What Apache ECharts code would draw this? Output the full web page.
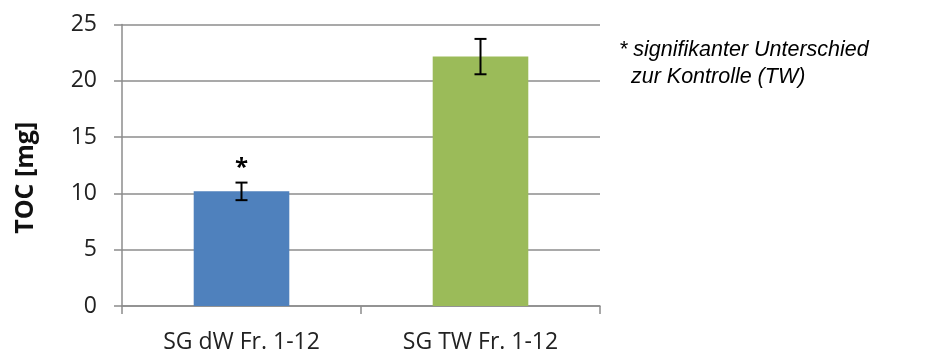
<!DOCTYPE html>
<html>
<head>
<meta charset="utf-8">
<script src="https://cdn.jsdelivr.net/npm/echarts@6/dist/echarts.min.js"></script>
<style>
  html, body { margin: 0; padding: 0; background: #fff; }
  #chart { width: 930px; height: 354px; }
</style>
</head>
<body>
<div id="chart"></div>
<script>
// TOC per sample group, with standard deviation and significance marker
const categories = ['SG dW Fr. 1-12', 'SG TW Fr. 1-12'];
const tocValues = [10.18, 22.15];
const tocErrors = [0.78, 1.57];
const significance = ['*', ''];
const barColors = ['#4F81BD', '#9BBB59'];
const yTicks = { min: 0, max: 25, interval: 5 };
const noteLines = ['* signifikanter Unterschied', '  zur Kontrolle (TW)'];

const chart = echarts.init(document.getElementById('chart'), null, { renderer: 'canvas' });

const gridColor = '#8c8c8c';
const labelFont = '"Open Sans", sans-serif';

const errorData = tocValues.map((v, i) => [i, v, tocErrors[i], significance[i]]);

chart.setOption({
  animation: false,
  grid: { left: 122, right: 330, top: 24.5, bottom: 45.5 },
  xAxis: {
    type: 'category',
    data: categories,
    boundaryGap: true,
    axisLine: { lineStyle: { color: gridColor, width: 1.5 } },
    axisTick: { show: true, length: 8, lineStyle: { color: gridColor, width: 1.5 } },
    axisLabel: { color: '#222', fontSize: 23, fontFamily: labelFont, margin: 25 }
  },
  yAxis: {
    type: 'value',
    min: yTicks.min,
    max: yTicks.max,
    interval: yTicks.interval,
    name: 'TOC [mg]',
    nameLocation: 'middle',
    nameGap: 84,
    nameRotate: 90,
    nameTextStyle: { color: '#111', fontSize: 25, fontWeight: 'bold', fontFamily: labelFont, padding: [0, 25, 0, 0] },
    axisLine: { show: true, lineStyle: { color: gridColor, width: 1.5 } },
    axisTick: { show: true, length: 8, lineStyle: { color: gridColor, width: 1.5 } },
    splitLine: { show: true, lineStyle: { color: gridColor, width: 1.5 } },
    axisLabel: { color: '#222', fontSize: 23, fontFamily: labelFont, margin: 25 }
  },
  series: [
    {
      type: 'bar',
      barWidth: '40%',
      data: tocValues.map((v, i) => ({ value: v, itemStyle: { color: barColors[i] } })),
      z: 2
    },
    {
      type: 'custom',
      data: errorData,
      z: 5,
      renderItem: function (params, api) {
        const x = api.value(0);
        const v = api.value(1);
        const e = api.value(2);
        const mark = api.value(3);
        const hi = api.coord([x, v + e]);
        const lo = api.coord([x, v - e]);
        const cap = 6;
        const style = { stroke: '#000', lineWidth: 2 };
        const children = [
          { type: 'line', shape: { x1: hi[0], y1: hi[1], x2: lo[0], y2: lo[1] }, style: style },
          { type: 'line', shape: { x1: hi[0] - cap, y1: hi[1], x2: hi[0] + cap, y2: hi[1] }, style: style },
          { type: 'line', shape: { x1: lo[0] - cap, y1: lo[1], x2: lo[0] + cap, y2: lo[1] }, style: style }
        ];
        if (mark) {
          children.push({
            type: 'text',
            style: {
              text: mark, x: hi[0], y: hi[1] - 2,
              align: 'center', verticalAlign: 'bottom',
              fontSize: 24, fontWeight: 'bold', fontFamily: labelFont, fill: '#000'
            }
          });
        }
        return { type: 'group', children: children };
      }
    }
  ],
  graphic: [
    {
      type: 'text',
      left: 619,
      top: 37,
      style: {
        text: noteLines.join('\n'),
        fontSize: 21.5,
        fontStyle: 'italic',
        fontFamily: '"Liberation Sans", Arial, sans-serif',
        lineHeight: 27,
        fill: '#000'
      }
    }
  ]
});
</script>
</body>
</html>
